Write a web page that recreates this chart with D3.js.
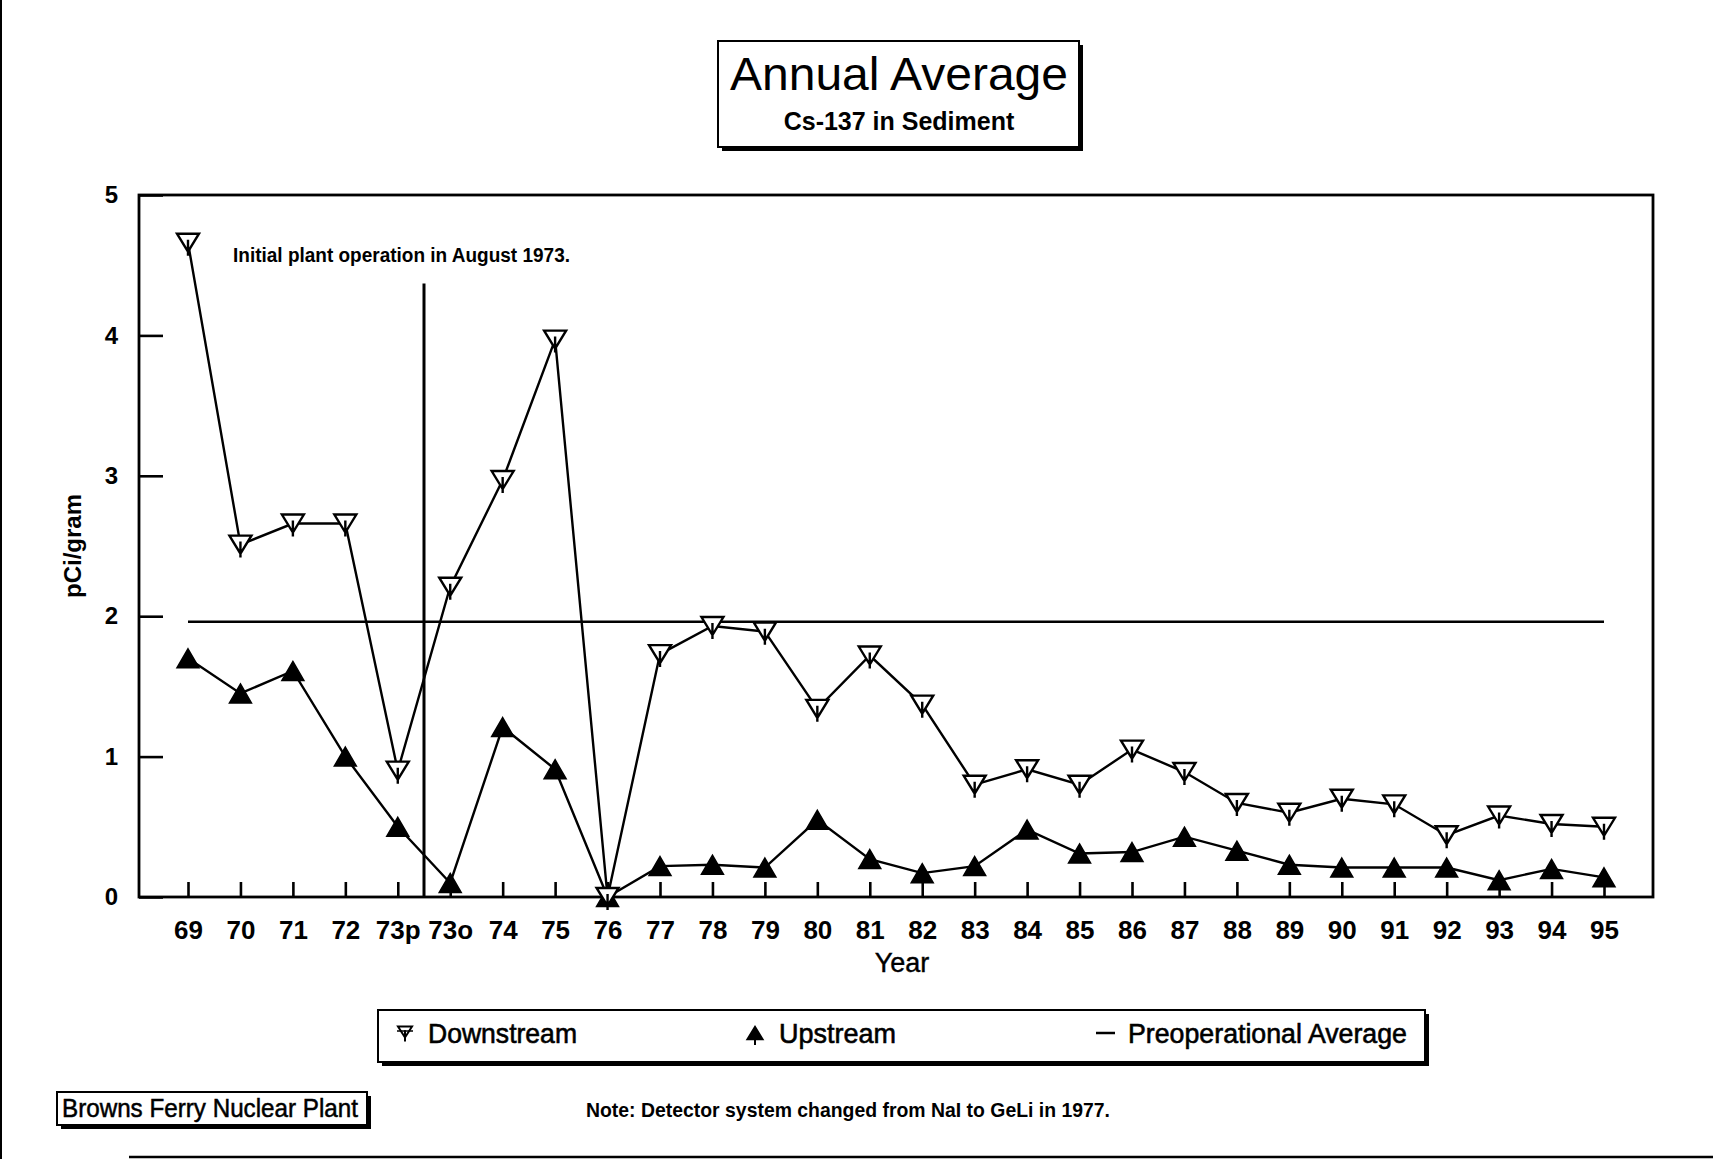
<!DOCTYPE html>
<html>
<head>
<meta charset="utf-8">
<script src="https://cdn.jsdelivr.net/npm/d3@7"></script>
<style>
  html, body { margin: 0; padding: 0; background: #fff; }
  svg { display: block; }
  text { font-family: "Liberation Sans", Arial, Helvetica, sans-serif; fill: #000; }
</style>
</head>
<body>
<svg id="chart" width="1713" height="1159"></svg>
<script>
// Sampling years (73p = preoperational, 73o = operational part of 1973)
const categories = ["69", "70", "71", "72", "73p", "73o", "74", "75", "76", "77", "78", "79", "80",
  "81", "82", "83", "84", "85", "86", "87", "88", "89", "90", "91", "92", "93", "94", "95"];

// Cs-137 in sediment, annual averages (pCi/gram)
const downstream = [4.66, 2.51, 2.66, 2.66, 0.90, 2.21, 2.97, 3.97, 0.00, 1.73, 1.93, 1.89, 1.34,
  1.72, 1.37, 0.80, 0.91, 0.80, 1.05, 0.89, 0.67, 0.60, 0.70, 0.66, 0.44, 0.58, 0.52, 0.50];
const upstream = [1.70, 1.45, 1.61, 1.00, 0.50, 0.10, 1.21, 0.91, 0.00, 0.22, 0.23, 0.21, 0.55,
  0.27, 0.17, 0.22, 0.48, 0.31, 0.32, 0.43, 0.33, 0.23, 0.21, 0.21, 0.21, 0.12, 0.20, 0.14];
const preopAverage = 1.96;

const yTicks = [0, 1, 2, 3, 4, 5];

// Start of plant operation (August 1973), between the 73p and 73o samples
const startupIndex = 4.5;
const startupLineTop = 4.37;

const W = 1713, H = 1159;
const plot = { left: 139, top: 195, right: 1653, bottom: 897 };
const FONT = '"Liberation Sans", Arial, Helvetica, sans-serif';

const svg = d3.select("#chart");
svg.append("rect").attr("width", W).attr("height", H).attr("fill", "#fff");

const x = d3.scalePoint().domain(categories).range([188, 1604]);
const xIndex = d3.scaleLinear().domain([0, categories.length - 1]).range([188, 1604]);
const y = d3.scaleLinear().domain([0, 5]).range([plot.bottom, plot.top]);

// ---------- sheet edges ----------
svg.append("line").attr("x1", 1).attr("x2", 1).attr("y1", 0).attr("y2", H)
  .attr("stroke", "#000").attr("stroke-width", 2);
svg.append("line").attr("x1", 129).attr("x2", W).attr("y1", 1157).attr("y2", 1157)
  .attr("stroke", "#000").attr("stroke-width", 2.5);

// ---------- boxed label helper (with drop shadow) ----------
function shadowBox(x0, y0, w, h) {
  svg.append("rect").attr("x", x0 + 4).attr("y", y0 + 4).attr("width", w).attr("height", h)
    .attr("fill", "#000");
  svg.append("rect").attr("x", x0).attr("y", y0).attr("width", w).attr("height", h)
    .attr("fill", "#fff").attr("stroke", "#000").attr("stroke-width", 2);
}

// ---------- title ----------
shadowBox(718, 41, 361, 106);
svg.append("text").attr("x", 899).attr("y", 90).attr("text-anchor", "middle")
  .attr("font-size", 47).attr("textLength", 338).attr("lengthAdjust", "spacingAndGlyphs")
  .text("Annual Average");
svg.append("text").attr("x", 899).attr("y", 130).attr("text-anchor", "middle")
  .attr("font-size", 25).attr("font-weight", "bold")
  .text("Cs-137 in Sediment");

// ---------- axes ----------
const yAxis = d3.axisLeft(y).tickValues(yTicks).tickFormat(d3.format("d"))
  .tickSizeInner(-24).tickSizeOuter(0).tickPadding(21);
const gy = svg.append("g").attr("transform", `translate(${plot.left},0)`).call(yAxis);
gy.select(".domain").remove();
gy.selectAll(".tick line").attr("stroke", "#000").attr("stroke-width", 2.6);
gy.selectAll(".tick text").attr("font-family", FONT).attr("font-size", 24)
  .attr("font-weight", "bold").attr("fill", "#000");

const xAxis = d3.axisBottom(x).tickSizeInner(-15).tickSizeOuter(0).tickPadding(0);
const gx = svg.append("g").attr("transform", `translate(0,${plot.bottom})`).call(xAxis);
gx.select(".domain").remove();
gx.selectAll(".tick line").attr("stroke", "#000").attr("stroke-width", 2.6);
gx.selectAll(".tick text").attr("font-family", FONT).attr("font-size", 26)
  .attr("font-weight", "bold").attr("fill", "#000")
  .attr("dy", null).attr("y", 42);

// axis titles
svg.append("text").attr("x", 902).attr("y", 972).attr("text-anchor", "middle")
  .attr("font-size", 27).attr("stroke", "#000").attr("stroke-width", 0.4).text("Year");
svg.append("text").attr("transform", "translate(81,546) rotate(-90)")
  .attr("text-anchor", "middle").attr("font-size", 24).attr("font-weight", "bold")
  .text("pCi/gram");

// ---------- plot frame ----------
svg.append("rect").attr("x", plot.left).attr("y", plot.top)
  .attr("width", plot.right - plot.left).attr("height", plot.bottom - plot.top)
  .attr("fill", "none").attr("stroke", "#000").attr("stroke-width", 2.8);

// ---------- preoperational average ----------
svg.append("line")
  .attr("x1", x(categories[0])).attr("x2", x(categories[categories.length - 1]))
  .attr("y1", y(preopAverage)).attr("y2", y(preopAverage))
  .attr("stroke", "#000").attr("stroke-width", 2.6);

// ---------- plant start-up marker ----------
svg.append("line")
  .attr("x1", xIndex(startupIndex)).attr("x2", xIndex(startupIndex))
  .attr("y1", y(startupLineTop)).attr("y2", plot.bottom)
  .attr("stroke", "#000").attr("stroke-width", 3);
svg.append("text").attr("x", 233).attr("y", 262)
  .attr("font-size", 20).attr("font-weight", "bold")
  .attr("textLength", 337).attr("lengthAdjust", "spacingAndGlyphs")
  .text("Initial plant operation in August 1973.");

// ---------- series lines ----------
const line = d3.line().x((d, i) => x(categories[i])).y(d => y(d));
svg.append("path").datum(downstream).attr("d", line)
  .attr("fill", "none").attr("stroke", "#000").attr("stroke-width", 2.4);
svg.append("path").datum(upstream).attr("d", line)
  .attr("fill", "none").attr("stroke", "#000").attr("stroke-width", 2.4);

// triangle outlines centred on their bounding box
function triDown(w, h) {
  const p = d3.path();
  p.moveTo(-w / 2, -h / 2); p.lineTo(w / 2, -h / 2); p.lineTo(0, h / 2); p.closePath();
  p.moveTo(0, -h / 6); p.lineTo(0, h / 2 + 4);
  return p.toString();
}
function triUp(w, h) {
  const p = d3.path();
  p.moveTo(0, -h / 2); p.lineTo(w / 2, h / 2); p.lineTo(-w / 2, h / 2); p.closePath();
  return p.toString();
}

// upstream markers (filled)
svg.append("g").selectAll("path").data(upstream).join("path")
  .attr("transform", (d, i) => `translate(${x(categories[i])},${y(d)})`)
  .attr("d", triUp(22, 19))
  .attr("fill", "#000").attr("stroke", "#000").attr("stroke-width", 1.5)
  .attr("stroke-linejoin", "miter");

// downstream markers (open)
svg.append("g").selectAll("path").data(downstream).join("path")
  .attr("transform", (d, i) => `translate(${x(categories[i])},${y(d)})`)
  .attr("d", triDown(22, 18))
  .attr("fill", "#fff").attr("stroke", "#000").attr("stroke-width", 2.4)
  .attr("stroke-linejoin", "miter");

// ---------- legend ----------
shadowBox(378, 1010, 1047, 52);
const legendY = 1032;
svg.append("path").attr("transform", `translate(405,${legendY})`)
  .attr("d", triDown(14, 11)).attr("fill", "#fff").attr("stroke", "#000").attr("stroke-width", 2);
svg.append("line").attr("x1", 397).attr("x2", 413).attr("y1", legendY - 1).attr("y2", legendY - 1)
  .attr("stroke", "#000").attr("stroke-width", 1.5);
svg.append("text").attr("x", 428).attr("y", 1043).attr("font-size", 28)
  .attr("stroke", "#000").attr("stroke-width", 0.6)
  .attr("textLength", 149).attr("lengthAdjust", "spacingAndGlyphs").text("Downstream");

svg.append("path").attr("transform", `translate(755,${legendY + 1})`)
  .attr("d", triUp(16, 13)).attr("fill", "#000").attr("stroke", "#000").attr("stroke-width", 1.5);
svg.append("line").attr("x1", 755).attr("x2", 755).attr("y1", legendY + 4).attr("y2", legendY + 13)
  .attr("stroke", "#000").attr("stroke-width", 2);
svg.append("text").attr("x", 779).attr("y", 1043).attr("font-size", 28)
  .attr("stroke", "#000").attr("stroke-width", 0.6)
  .attr("textLength", 117).attr("lengthAdjust", "spacingAndGlyphs").text("Upstream");

svg.append("line").attr("x1", 1096).attr("x2", 1115).attr("y1", legendY + 1).attr("y2", legendY + 1)
  .attr("stroke", "#000").attr("stroke-width", 2.5);
svg.append("text").attr("x", 1128).attr("y", 1043).attr("font-size", 27)
  .attr("stroke", "#000").attr("stroke-width", 0.6)
  .attr("textLength", 279).attr("lengthAdjust", "spacingAndGlyphs").text("Preoperational Average");

// ---------- footer ----------
shadowBox(57, 1092, 310, 33);
svg.append("text").attr("x", 62).attr("y", 1117).attr("font-size", 25)
  .attr("stroke", "#000").attr("stroke-width", 0.5)
  .attr("textLength", 296).attr("lengthAdjust", "spacingAndGlyphs")
  .text("Browns Ferry Nuclear Plant");
svg.append("text").attr("x", 586).attr("y", 1117).attr("font-size", 21).attr("font-weight", "bold")
  .attr("textLength", 524).attr("lengthAdjust", "spacingAndGlyphs")
  .text("Note:  Detector system changed from NaI to GeLi in 1977.");
</script>
</body>
</html>
